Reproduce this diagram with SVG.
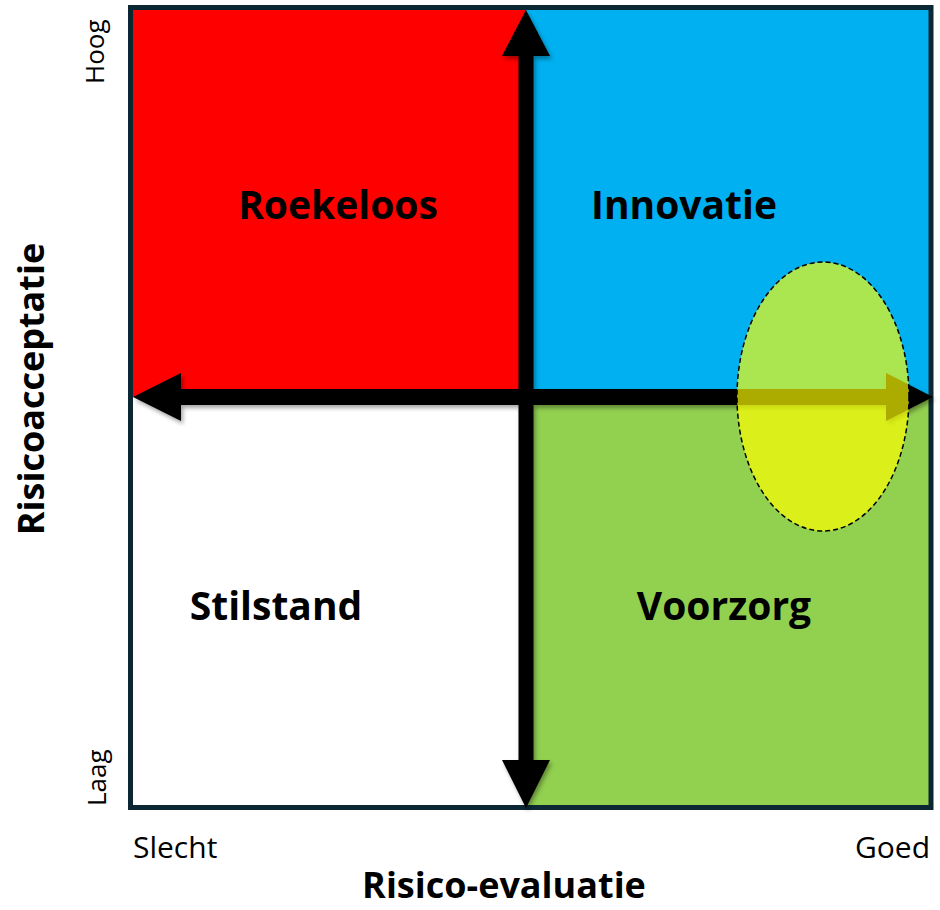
<svg xmlns="http://www.w3.org/2000/svg" width="940" height="910" viewBox="0 0 940 910">
<style>
.q{font-family:"Open Sans","Liberation Sans",sans-serif;font-weight:bold;font-size:39px;fill:#000;text-anchor:middle}
.ax{font-family:"Open Sans","Liberation Sans",sans-serif;font-weight:bold;font-size:36px;fill:#000;text-anchor:middle}
.sm{font-family:"Open Sans","Liberation Sans",sans-serif;font-size:30px;fill:#000}
.lv{font-family:"Open Sans","Liberation Sans",sans-serif;font-size:26px;fill:#000}
.arr{fill:#000}
</style>
<defs>
<filter id="sh" x="-10%" y="-10%" width="120%" height="120%">
<feDropShadow dx="2" dy="3" stdDeviation="2" flood-color="#000" flood-opacity="0.35"/>
</filter>
</defs>
<rect width="940" height="910" fill="#fff"/>
<g id="q-roekeloos">
<rect x="130.5" y="7.5" width="395.5" height="389.5" fill="#FF0000"/>
<text class="q" x="338" y="219">Roekeloos</text>
</g>
<g id="q-innovatie">
<rect x="526" y="7.5" width="405" height="389.5" fill="#00B0F0"/>
<text class="q" x="684" y="219">Innovatie</text>
</g>
<g id="q-stilstand">
<rect x="130.5" y="397" width="395.5" height="410.5" fill="#FFFFFF"/>
<text class="q" x="276" y="620">Stilstand</text>
</g>
<g id="q-voorzorg">
<rect x="526" y="397" width="405" height="410.5" fill="#92D050"/>
<text class="q" x="724" y="620">Voorzorg</text>
</g>
<g id="frame">
<rect x="130.5" y="7.5" width="800.5" height="800" fill="none" stroke="#0B2733" stroke-width="5"/>
</g>
<g id="connectors" filter="url(#sh)">
<rect class="arr" x="518.5" y="50" width="15" height="715"/>
<rect class="arr" x="175" y="389" width="716" height="16"/>
<polygon class="arr" points="526,10 550,56 502,56"/>
<polygon class="arr" points="526,808 550,760 502,760"/>
<polygon class="arr" points="133,397 181,373 181,421"/>
<polygon class="arr" points="933,397 886,373 886,421"/>
</g>
<g id="zone">
<ellipse cx="823" cy="396.5" rx="86" ry="134.5" fill="#FFFF00" fill-opacity="0.67" stroke="#000" stroke-width="1.5" stroke-dasharray="5,3"/>
</g>
<g id="labels">
<text class="lv" transform="translate(104,84) rotate(-90)">Hoog</text>
<text class="lv" transform="translate(106,806) rotate(-90)">Laag</text>
<text class="sm" x="133" y="858">Slecht</text>
<text class="sm" x="930" y="858" text-anchor="end">Goed</text>
<text class="ax" x="504" y="898">Risico-evaluatie</text>
<text class="ax" transform="translate(44,389) rotate(-90)">Risicoacceptatie</text>
</g>
</svg>
